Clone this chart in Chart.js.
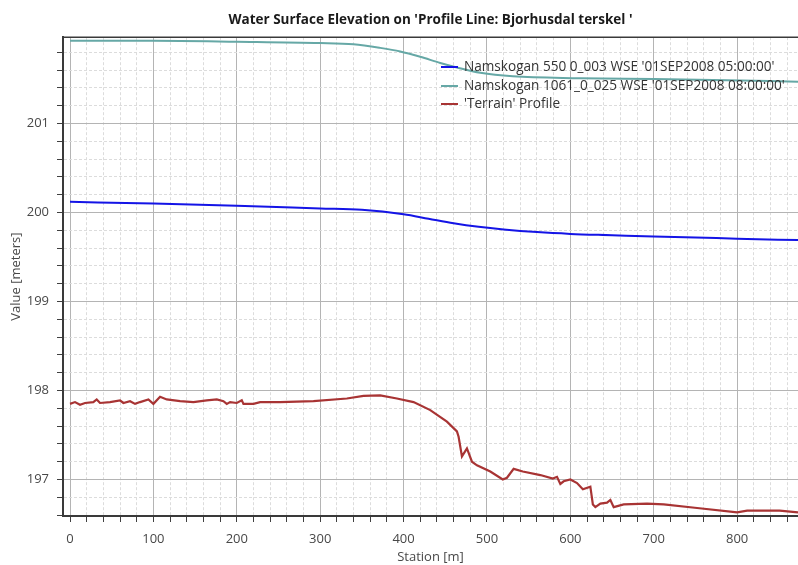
<!DOCTYPE html>
<html>
<head>
<meta charset="utf-8">
<script src="https://cdn.jsdelivr.net/npm/chart.js@4.4.1/dist/chart.umd.min.js"></script>
<style>
    body { margin: 0; background: #fff; }
    #wrap { position: relative; width: 798px; height: 565px; }
    #legend { position: absolute; left: 441px; top: 57px; font: 13.6px "Open Sans", sans-serif; color: #333; }
    #legend div { height: 18.5px; line-height: 18.5px; white-space: nowrap; }
    #legend span.mark { display: inline-block; width: 17px; height: 2px; vertical-align: middle; margin-right: 6px; }
</style>
</head>
<body>
<div id="wrap">
    <canvas id="wseChart" width="798" height="565"></canvas>
    <div id="legend"></div>
</div>
<script>
// DATA

const wse1Station = [0, 100, 200, 300, 350, 400, 430, 460, 490, 520, 560, 600, 650, 700, 750, 800, 873];
const wse1Elev = [200.12, 200.10, 200.075, 200.045, 200.03, 199.98, 199.93, 199.88, 199.84, 199.81, 199.78, 199.76, 199.745, 199.73, 199.72, 199.705, 199.69];

const wse2Station = [0, 100, 200, 300, 340, 372, 396, 420, 444, 464, 492, 531, 612, 700, 771, 873];
const wse2Elev = [201.93, 201.93, 201.92, 201.905, 201.89, 201.85, 201.81, 201.75, 201.68, 201.63, 201.57, 201.53, 201.51, 201.50, 201.49, 201.47];

const terrainStation = [0, 6, 12, 18, 28, 32, 36, 48, 60, 64, 72, 78, 84, 94, 100, 108, 116, 132, 148, 164,
    176, 184, 188, 192, 200, 206, 208, 220, 228, 252, 292, 332, 352, 372, 392, 412, 432, 452, 464, 466,
    470, 476, 482, 488, 504, 519, 524, 532, 543, 564, 579, 584, 588, 592, 600, 608, 615, 624, 627, 630,
    636, 644, 648, 652, 664, 692, 712, 752, 800, 812, 851, 873];
const terrainElev = [197.85, 197.87, 197.84, 197.86, 197.87, 197.90, 197.86, 197.87, 197.89, 197.86, 197.88, 197.85, 197.87, 197.90, 197.85, 197.93, 197.90, 197.88, 197.87, 197.89,
    197.90, 197.88, 197.85, 197.87, 197.86, 197.89, 197.85, 197.85, 197.87, 197.87, 197.88, 197.91, 197.94, 197.945, 197.91, 197.87, 197.78, 197.65, 197.54, 197.48,
    197.26, 197.35, 197.20, 197.16, 197.09, 197.00, 197.02, 197.12, 197.09, 197.05, 197.01, 197.03, 196.95, 196.98, 197.00, 196.96, 196.89, 196.92, 196.72, 196.69,
    196.73, 196.74, 196.77, 196.69, 196.72, 196.73, 196.72, 196.68, 196.63, 196.65, 196.65, 196.63];

const seriesNames = [
    "Namskogan 550 0_003 WSE '01SEP2008 05:00:00'",
    "Namskogan 1061_0_025 WSE '01SEP2008 08:00:00'",
    "'Terrain' Profile"
];

const xTickLabels = [0, 100, 200, 300, 400, 500, 600, 700, 800];
const yTickLabels = [197, 198, 199, 200, 201];

// HELPERS

function toPoints(xs, ys) {
    return xs.map((x, i) => ({ x: x, y: ys[i] }));
}

function isMajorX(v) { return xTickLabels.includes(Math.round(v)); }
function isMajorY(v) { return yTickLabels.includes(Math.round(v * 10) / 10); }

const FONT = "'Open Sans', sans-serif";

// top frame line of the plot
const frameLine = {
    id: "frameLine",
    afterDraw(chart) {
        const { ctx, chartArea } = chart;
        ctx.save();
        ctx.strokeStyle = "#3a3a3a";
        ctx.lineWidth = 1.5;
        ctx.beginPath();
        ctx.moveTo(chartArea.left, chartArea.top);
        ctx.lineTo(chartArea.right, chartArea.top);
        ctx.stroke();
        ctx.restore();
    }
};

// CHART

const chart = new Chart(document.getElementById("wseChart"), {
    type: "line",
    data: {
        datasets: [{
            label: seriesNames[0],
            data: toPoints(wse1Station, wse1Elev),
            borderColor: "#1414e6",
            borderWidth: 2,
            pointRadius: 0,
            cubicInterpolationMode: "monotone"
        }, {
            label: seriesNames[1],
            data: toPoints(wse2Station, wse2Elev),
            borderColor: "#66a8a6",
            borderWidth: 2,
            pointRadius: 0,
            cubicInterpolationMode: "monotone"
        }, {
            label: seriesNames[2],
            data: toPoints(terrainStation, terrainElev),
            borderColor: "#a83434",
            borderWidth: 2.2,
            pointRadius: 0
        }]
    },
    options: {
        responsive: false,
        animation: false,
        devicePixelRatio: 1,
        layout: { padding: { left: 0, right: 0, top: 0, bottom: 0 } },
        plugins: {
            legend: { display: false },
            tooltip: { enabled: false },
            title: {
                display: true,
                fullSize: false,
                text: "Water Surface Elevation on 'Profile Line: Bjorhusdal terskel '",
                color: "#1a1a1a",
                font: { family: FONT, size: 13.5, weight: "bold" },
                padding: { top: 12, bottom: 9 }
            }
        },
        scales: {
            x: {
                type: "linear",
                min: -8.4,
                max: 873,
                afterBuildTicks: scale => {
                    const ticks = [];
                    for (let v = 0; v <= 860; v += 20) ticks.push({ value: v });
                    scale.ticks = ticks;
                },
                afterFit: scale => { scale.height = 49; },
                ticks: {
                    autoSkip: false,
                    maxRotation: 0,
                    padding: 9,
                    color: "#484848",
                    font: { family: FONT, size: 13 },
                    callback: v => isMajorX(v) ? String(v) : ""
                },
                grid: {
                    color: c => c.tick && isMajorX(c.tick.value) ? "#b4b4b4" : "#dcdcdc",
                    tickColor: "#404040",
                    tickLength: 6
                },
                border: {
                    color: "#3a3a3a",
                    width: 2,
                    dash: c => c.tick && !isMajorX(c.tick.value) ? [3, 2] : []
                },
                title: {
                    display: true,
                    text: "Station [m]",
                    color: "#484848",
                    font: { family: FONT, size: 13 },
                    padding: { top: 1, bottom: 0 }
                }
            },
            y: {
                type: "linear",
                min: 196.59,
                max: 201.97,
                afterBuildTicks: scale => {
                    const ticks = [];
                    for (let k = 983; k <= 1009; k++) ticks.push({ value: Math.round(k * 2) / 10 });
                    scale.ticks = ticks;
                },
                afterFit: scale => { scale.width = 63; },
                ticks: {
                    autoSkip: false,
                    padding: 8,
                    color: "#484848",
                    font: { family: FONT, size: 13 },
                    callback: v => isMajorY(v) ? String(Math.round(v)) : ""
                },
                grid: {
                    color: c => c.tick && isMajorY(c.tick.value) ? "#b4b4b4" : "#dcdcdc",
                    tickColor: "#404040",
                    tickLength: 6
                },
                border: {
                    color: "#3a3a3a",
                    width: 2,
                    dash: c => c.tick && !isMajorY(c.tick.value) ? [3, 2] : []
                },
                title: {
                    display: true,
                    text: "Value [meters]",
                    color: "#484848",
                    font: { family: FONT, size: 13 },
                    padding: { top: 8, bottom: 0 }
                }
            }
        }
    },
    plugins: [frameLine]
});

// LEGEND (inside plot, no box)

const legendEl = document.getElementById("legend");
chart.data.datasets.forEach(ds => {
    const row = document.createElement("div");
    row.innerHTML = '<span class="mark" style="background:' + ds.borderColor + '"></span>' + ds.label;
    legendEl.appendChild(row);
});
</script>
</body>
</html>
